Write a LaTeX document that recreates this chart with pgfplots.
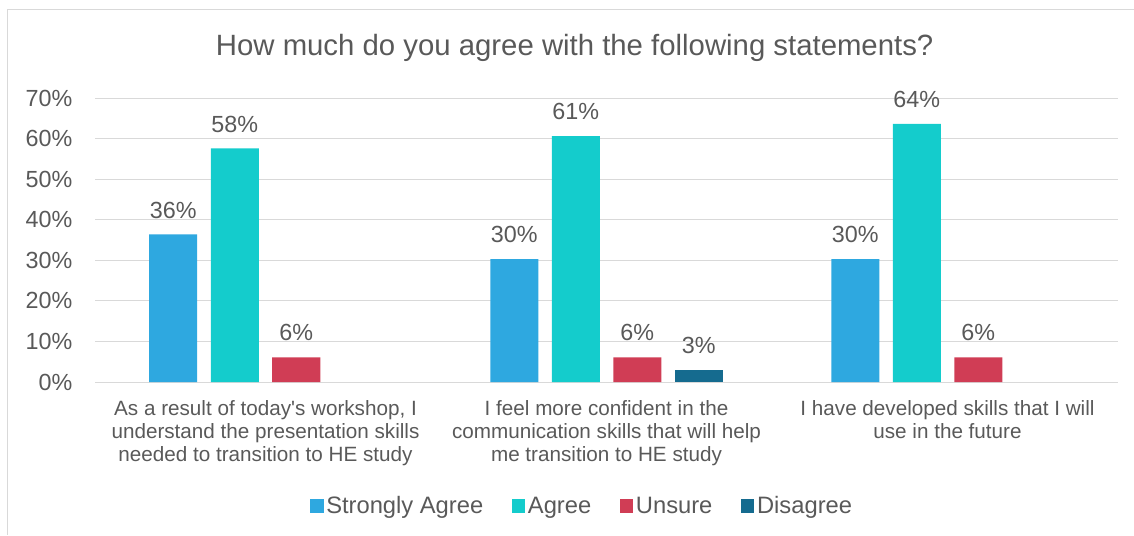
\documentclass[border=0pt]{standalone}
\usepackage{fontspec}
\setmainfont{Liberation Sans}
\usepackage{pgfplots}
\pgfplotsset{compat=1.18}
\definecolor{txt}{HTML}{595959}
\definecolor{gridc}{HTML}{D9D9D9}
\definecolor{cSA}{HTML}{2EA8E0}
\definecolor{cAg}{HTML}{14CCCC}
\definecolor{cUn}{HTML}{D03D55}
\definecolor{cDi}{HTML}{156B8F}
\begin{document}
\begin{tikzpicture}
\path[use as bounding box] (0pt,0pt) rectangle (850.5pt,401.25pt);
\draw[gridc, line width=0.75pt] (850.5pt,393.75pt) -- (5.6pt,393.75pt) -- (5.6pt,0pt);
\node[text=txt, font=\fontsize{22}{26}\selectfont] at (431pt,365pt) {How much do you agree with the following statements?};
\begin{axis}[at={(71.25pt,114.75pt)}, anchor=south west, scale only axis,
  width=767.25pt, height=213pt,
  xmin=-0.5, xmax=2.5, ymin=0, ymax=70,
  ytick={0,10,...,70}, ymajorgrids,
  major grid style={gridc, line width=0.75pt},
  axis line style={draw=none}, tick style={draw=none},
  /pgf/number format/assume math mode=true,
  yticklabel={\pgfmathprintnumber{\tick}\%},
  yticklabel style={text=txt, font=\fontsize{17.5}{21}\selectfont, xshift=-13.5pt},
  xtick={0,1,2},
  xticklabels={{As a result of today\textquotesingle s workshop, I\\understand the presentation skills\\needed to transition to HE study},
    {I feel more confident in the\\communication skills that will help\\me transition to HE study},
    {I have developed skills that I will\\use in the future}},
  xticklabel style={align=center, text=txt, font=\fontsize{15.5}{17.25}\selectfont, yshift=-6pt},
  ybar, bar width=36pt,
  nodes near coords={\pgfmathprintnumber[fixed,precision=0]{\pgfplotspointmeta}\%},
  nodes near coords style={text=txt, font=\fontsize{17.5}{21}\selectfont, yshift=8.5pt},
  legend style={at={(0.5,-0.4366)}, anchor=center, xshift=-18pt, draw=none, fill=none,
    legend columns=4, font=\fontsize{17.8}{21}\selectfont, text=txt,
    /tikz/every even column/.append style={column sep=19.5pt}},
  legend image code/.code={\fill[#1] (0pt,-5pt) rectangle (10pt,5pt);},
]
\addplot[fill=cSA, draw=none, bar shift=-69.19pt] coordinates {(0,36.4) (1,30.3) (2,30.3)};
\addplot[fill=cAg, draw=none, bar shift=-23.06pt] coordinates {(0,57.6) (1,60.6) (2,63.6)};
\addplot[fill=cUn, draw=none, bar shift=23.06pt] coordinates {(0,6.1) (1,6.1) (2,6.1)};
\addplot[fill=cDi, draw=none, bar shift=69.19pt] coordinates {(1,3.0)};
\legend{Strongly Agree, Agree, Unsure, Disagree}
\end{axis}
\end{tikzpicture}
\end{document}
